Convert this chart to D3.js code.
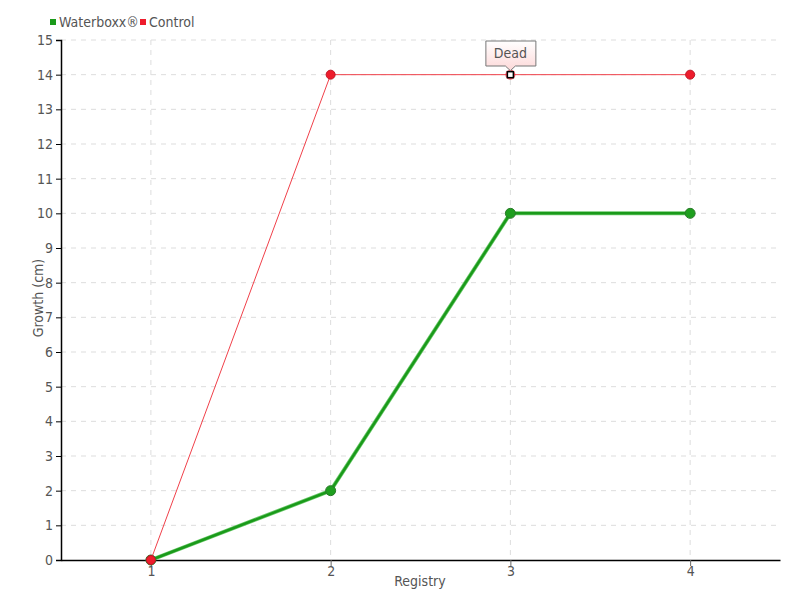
<!DOCTYPE html>
<html><head><meta charset="utf-8">
<script src="https://cdn.jsdelivr.net/npm/d3@7"></script>
<style>
body{margin:0;background:#fff;}
text{font-family:"DejaVu Sans Condensed","DejaVu Sans",sans-serif;font-stretch:condensed;}
</style></head>
<body><svg id="c" width="800" height="600"></svg>
<script>
const categories = ["1","2","3","4"];
const waterboxx = [0,2,10,10];
const control = [0,14,14,14];
const yTicks = [0,1,2,3,4,5,6,7,8,9,10,11,12,13,14,15];
const seriesNames = ["Waterboxx®","Control"];
const annotation = {series:"Control", index:2, text:"Dead"};

const svg = d3.select("#c");
const L=61,R=780,T=40,B=560;
const x = d3.scalePoint().domain(categories).range([L,R]).padding(0.5);
const y = d3.scaleLinear().domain([0,15]).range([B,T]);

// grid
const g = svg.append("g");
g.selectAll("line.h").data(yTicks.filter(d=>d>0)).join("line")
 .attr("x1",L).attr("x2",R).attr("y1",d=>y(d)).attr("y2",d=>y(d))
 .attr("stroke","#ddd").attr("stroke-dasharray","5,5");
g.selectAll("line.v").data(categories).join("line")
 .attr("x1",d=>x(d)).attr("x2",d=>x(d)).attr("y1",T).attr("y2",B)
 .attr("stroke","#ddd").attr("stroke-dasharray","5,5");

// axes
const ya = svg.append("g").attr("transform",`translate(${L},0)`)
 .call(d3.axisLeft(y).tickValues(yTicks).tickSize(5).tickPadding(3));
ya.select(".domain").attr("stroke","#000").attr("stroke-width",1.5);
ya.selectAll(".tick line").attr("stroke","#000");
ya.selectAll(".tick text").attr("fill","#555").style("font-size","14px");
const xa = svg.append("g").attr("transform",`translate(0,${B})`)
 .call(d3.axisBottom(x).tickSize(6).tickPadding(0).tickSizeOuter(0));
xa.select(".domain").attr("stroke","#000").attr("stroke-width",1.5);
xa.selectAll(".tick line").attr("stroke","#666");
xa.selectAll(".tick text").attr("fill","#555").style("font-size","14px");

svg.append("text").attr("x",420).attr("y",586).attr("text-anchor","middle")
 .attr("fill","#555").style("font-size","14px").text("Registry");
svg.append("text").attr("transform","translate(43,298) rotate(-90)").attr("text-anchor","middle")
 .attr("fill","#555").style("font-size","14px").text("Growth (cm)");

const line = d3.line().x((d,i)=>x(categories[i])).y(d=>y(d));
// waterboxx
svg.append("path").datum(waterboxx).attr("d",line).attr("fill","none")
 .attr("stroke","#6cc96c").attr("stroke-width",4);
svg.append("path").datum(waterboxx).attr("d",line).attr("fill","none")
 .attr("stroke","#1a9a1a").attr("stroke-width",2.5);
svg.selectAll("circle.w").data(waterboxx).join("circle")
 .attr("cx",(d,i)=>x(categories[i])).attr("cy",d=>y(d)).attr("r",5)
 .attr("fill","#1f9f1f").attr("stroke","#2a7a2a").attr("stroke-width",1);
// control
svg.append("path").datum(control).attr("d",line).attr("fill","none")
 .attr("stroke","#f0404a").attr("stroke-width",1);
svg.selectAll("circle.cc").data(control.map((v,i)=>({v,i})).filter(o=>o.i!==annotation.index)).join("circle")
 .attr("cx",o=>x(categories[o.i])).attr("cy",o=>y(o.v)).attr("r",4.5)
 .attr("fill","#ee1c2c").attr("stroke","#c01525").attr("stroke-width",1);
// annotated point
const ax = x(categories[annotation.index]), ay = y(control[annotation.index]);
svg.append("circle").attr("cx",ax).attr("cy",ay).attr("r",5).attr("fill","#e83040").attr("opacity",0.8);
svg.append("rect").attr("x",ax-3).attr("y",ay-3).attr("width",6).attr("height",6)
 .attr("fill","#fff").attr("stroke","#000").attr("stroke-width",1.5);
// tooltip
const defs = svg.append("defs");
const grad = defs.append("linearGradient").attr("id","tg").attr("x1",0).attr("x2",0).attr("y1",0).attr("y2",1);
grad.append("stop").attr("offset","0%").attr("stop-color","#fff");
grad.append("stop").attr("offset","100%").attr("stop-color","#fdd8d8");
const bx=ax-24.5, by=41, bw=50, bh=25;
svg.append("path").attr("d",`M${bx},${by}H${bx+bw}V${by+bh}H${ax+5}L${ax},${ay-4}L${ax-5},${by+bh}H${bx}Z`)
 .attr("fill","url(#tg)").attr("stroke","#777").attr("stroke-width",1);
svg.append("text").attr("x",ax).attr("y",by+17).attr("text-anchor","middle")
 .attr("fill","#555").style("font-size","14px").text(annotation.text);

// legend
const leg = svg.append("g");
const lc = ["#1a9a1a","#ee1c2c"], lx=[50,140];
seriesNames.forEach((n,i)=>{
  leg.append("rect").attr("x",lx[i]).attr("y",19).attr("width",6).attr("height",6).attr("fill",lc[i]);
  leg.append("text").attr("x",lx[i]+9).attr("y",27).attr("fill","#555").style("font-size","14px").text(n);
});
</script></body></html>
